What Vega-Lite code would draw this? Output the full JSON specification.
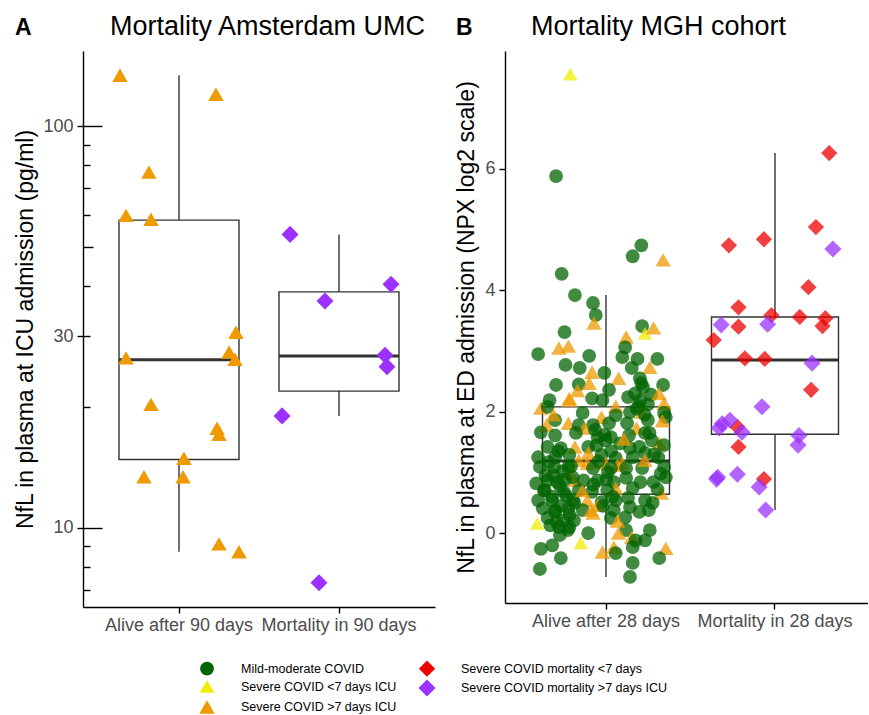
{
  "$schema": "https://vega.github.io/schema/vega-lite/v6.json",
  "background": "white",
  "padding": {"left": 14, "top": 13, "right": 0, "bottom": 0},
  "config": {
    "font": "Liberation Sans",
    "view": {"stroke": null},
    "axis": {"domainColor": "black", "domainWidth": 1.4, "tickColor": "black", "tickWidth": 1.4, "tickSize": 6, "labelColor": "#4d4d4d", "labelFontSize": 18, "labelFont": "Liberation Sans", "titleFont": "Liberation Sans", "titleFontSize": 23, "titleFontWeight": "normal", "titleColor": "black", "grid": false},
    "title": {"font": "Liberation Sans", "fontSize": 27, "fontWeight": "normal", "color": "black"},
    "legend": {"labelFont": "Liberation Sans", "labelFontSize": 12.5, "labelColor": "black", "labelLimit": 400},
    "concat": {"spacing": 20}
  },
  "datasets": {
    "boxA": [
      {"group": "Alive after 90 days", "lower": 8.72, "q1": 14.8, "median": 26.2, "q3": 58.4, "upper": 134},
      {"group": "Mortality in 90 days", "lower": 19.0, "q1": 21.9, "median": 26.8, "q3": 38.7, "upper": 53.8}
    ],
    "boxB": [
      {"group": "Alive after 28 days", "lower": -0.72, "q1": 0.64, "median": 1.19, "q3": 2.08, "upper": 3.92},
      {"group": "Mortality in 28 days", "lower": 0.38, "q1": 1.63, "median": 2.85, "q3": 3.56, "upper": 6.26}
    ],
    "ptsA": [
      {"group": "Alive after 90 days", "cat": "Severe COVID >7 days ICU", "nfl": 134, "jitter": -0.369},
      {"group": "Alive after 90 days", "cat": "Severe COVID >7 days ICU", "nfl": 120.2, "jitter": 0.231},
      {"group": "Alive after 90 days", "cat": "Severe COVID >7 days ICU", "nfl": 76.9, "jitter": -0.188},
      {"group": "Alive after 90 days", "cat": "Severe COVID >7 days ICU", "nfl": 60.0, "jitter": -0.331},
      {"group": "Alive after 90 days", "cat": "Severe COVID >7 days ICU", "nfl": 58.7, "jitter": -0.175},
      {"group": "Alive after 90 days", "cat": "Severe COVID >7 days ICU", "nfl": 30.7, "jitter": 0.356},
      {"group": "Alive after 90 days", "cat": "Severe COVID >7 days ICU", "nfl": 26.5, "jitter": -0.331},
      {"group": "Alive after 90 days", "cat": "Severe COVID >7 days ICU", "nfl": 27.4, "jitter": 0.313},
      {"group": "Alive after 90 days", "cat": "Severe COVID >7 days ICU", "nfl": 26.3, "jitter": 0.35},
      {"group": "Alive after 90 days", "cat": "Severe COVID >7 days ICU", "nfl": 20.3, "jitter": -0.175},
      {"group": "Alive after 90 days", "cat": "Severe COVID >7 days ICU", "nfl": 17.7, "jitter": 0.238},
      {"group": "Alive after 90 days", "cat": "Severe COVID >7 days ICU", "nfl": 17.1, "jitter": 0.25},
      {"group": "Alive after 90 days", "cat": "Severe COVID >7 days ICU", "nfl": 14.9, "jitter": 0.031},
      {"group": "Alive after 90 days", "cat": "Severe COVID >7 days ICU", "nfl": 13.4, "jitter": -0.219},
      {"group": "Alive after 90 days", "cat": "Severe COVID >7 days ICU", "nfl": 13.4, "jitter": 0.025},
      {"group": "Alive after 90 days", "cat": "Severe COVID >7 days ICU", "nfl": 9.12, "jitter": 0.25},
      {"group": "Alive after 90 days", "cat": "Severe COVID >7 days ICU", "nfl": 8.72, "jitter": 0.375},
      {"group": "Mortality in 90 days", "cat": "Severe COVID mortality >7 days ICU", "nfl": 53.8, "jitter": -0.306},
      {"group": "Mortality in 90 days", "cat": "Severe COVID mortality >7 days ICU", "nfl": 40.4, "jitter": 0.325},
      {"group": "Mortality in 90 days", "cat": "Severe COVID mortality >7 days ICU", "nfl": 36.7, "jitter": -0.0875},
      {"group": "Mortality in 90 days", "cat": "Severe COVID mortality >7 days ICU", "nfl": 26.9, "jitter": 0.288},
      {"group": "Mortality in 90 days", "cat": "Severe COVID mortality >7 days ICU", "nfl": 25.2, "jitter": 0.3},
      {"group": "Mortality in 90 days", "cat": "Severe COVID mortality >7 days ICU", "nfl": 19.0, "jitter": -0.356},
      {"group": "Mortality in 90 days", "cat": "Severe COVID mortality >7 days ICU", "nfl": 7.30, "jitter": -0.125}
    ],
    "ptsB": [
      {"group": "Alive after 28 days", "cat": "Severe COVID <7 days ICU", "npx": 7.56, "jitter": -0.195},
      {"group": "Alive after 28 days", "cat": "Mild-moderate COVID", "npx": 5.88, "jitter": -0.284},
      {"group": "Alive after 28 days", "cat": "Mild-moderate COVID", "npx": 4.74, "jitter": 0.249},
      {"group": "Alive after 28 days", "cat": "Mild-moderate COVID", "npx": 4.56, "jitter": 0.195},
      {"group": "Alive after 28 days", "cat": "Mild-moderate COVID", "npx": 4.27, "jitter": -0.249},
      {"group": "Alive after 28 days", "cat": "Mild-moderate COVID", "npx": 3.92, "jitter": -0.166},
      {"group": "Alive after 28 days", "cat": "Mild-moderate COVID", "npx": 3.79, "jitter": -0.053},
      {"group": "Alive after 28 days", "cat": "Mild-moderate COVID", "npx": 3.59, "jitter": -0.036},
      {"group": "Alive after 28 days", "cat": "Severe COVID >7 days ICU", "npx": 4.50, "jitter": 0.385},
      {"group": "Alive after 28 days", "cat": "Severe COVID >7 days ICU", "npx": 3.46, "jitter": -0.047},
      {"group": "Alive after 28 days", "cat": "Mild-moderate COVID", "npx": 3.41, "jitter": 0.254},
      {"group": "Alive after 28 days", "cat": "Severe COVID <7 days ICU", "npx": 3.29, "jitter": 0.272},
      {"group": "Alive after 28 days", "cat": "Severe COVID >7 days ICU", "npx": 3.38, "jitter": 0.325},
      {"group": "Alive after 28 days", "cat": "Mild-moderate COVID", "npx": 3.31, "jitter": -0.231},
      {"group": "Alive after 28 days", "cat": "Severe COVID >7 days ICU", "npx": 3.23, "jitter": 0.154},
      {"group": "Alive after 28 days", "cat": "Mild-moderate COVID", "npx": 3.06, "jitter": 0.148},
      {"group": "Alive after 28 days", "cat": "Severe COVID >7 days ICU", "npx": 3.05, "jitter": -0.266},
      {"group": "Alive after 28 days", "cat": "Severe COVID >7 days ICU", "npx": 3.08, "jitter": -0.207},
      {"group": "Alive after 28 days", "cat": "Mild-moderate COVID", "npx": 2.95, "jitter": -0.396},
      {"group": "Alive after 28 days", "cat": "Mild-moderate COVID", "npx": 2.92, "jitter": -0.077},
      {"group": "Alive after 28 days", "cat": "Mild-moderate COVID", "npx": 2.90, "jitter": 0.130},
      {"group": "Alive after 28 days", "cat": "Mild-moderate COVID", "npx": 2.87, "jitter": 0.225},
      {"group": "Alive after 28 days", "cat": "Mild-moderate COVID", "npx": 2.87, "jitter": 0.349},
      {"group": "Alive after 28 days", "cat": "Mild-moderate COVID", "npx": 2.77, "jitter": -0.225},
      {"group": "Alive after 28 days", "cat": "Mild-moderate COVID", "npx": 2.72, "jitter": -0.136},
      {"group": "Alive after 28 days", "cat": "Mild-moderate COVID", "npx": 2.72, "jitter": 0.189},
      {"group": "Alive after 28 days", "cat": "Severe COVID >7 days ICU", "npx": 2.65, "jitter": -0.059},
      {"group": "Alive after 28 days", "cat": "Severe COVID >7 days ICU", "npx": 2.73, "jitter": 0.302},
      {"group": "Alive after 28 days", "cat": "Mild-moderate COVID", "npx": 2.44, "jitter": -0.284},
      {"group": "Alive after 28 days", "cat": "Mild-moderate COVID", "npx": 2.45, "jitter": -0.142},
      {"group": "Alive after 28 days", "cat": "Severe COVID >7 days ICU", "npx": 2.47, "jitter": -0.077},
      {"group": "Alive after 28 days", "cat": "Mild-moderate COVID", "npx": 2.24, "jitter": 0.166},
      {"group": "Alive after 28 days", "cat": "Mild-moderate COVID", "npx": 2.44, "jitter": 0.385},
      {"group": "Alive after 28 days", "cat": "Mild-moderate COVID", "npx": 2.47, "jitter": 0.249},
      {"group": "Alive after 28 days", "cat": "Severe COVID >7 days ICU", "npx": 2.55, "jitter": 0.107},
      {"group": "Alive after 28 days", "cat": "Severe COVID >7 days ICU", "npx": 2.22, "jitter": -0.201},
      {"group": "Alive after 28 days", "cat": "Mild-moderate COVID", "npx": 2.64, "jitter": 0.018},
      {"group": "Alive after 28 days", "cat": "Mild-moderate COVID", "npx": 2.36, "jitter": 0.047},
      {"group": "Alive after 28 days", "cat": "Mild-moderate COVID", "npx": 2.19, "jitter": -0.325},
      {"group": "Alive after 28 days", "cat": "Severe COVID >7 days ICU", "npx": 2.19, "jitter": -0.201},
      {"group": "Alive after 28 days", "cat": "Mild-moderate COVID", "npx": 2.22, "jitter": -0.059},
      {"group": "Alive after 28 days", "cat": "Mild-moderate COVID", "npx": 2.19, "jitter": 0.006},
      {"group": "Alive after 28 days", "cat": "Mild-moderate COVID", "npx": 2.19, "jitter": 0.243},
      {"group": "Alive after 28 days", "cat": "Severe COVID >7 days ICU", "npx": 2.06, "jitter": -0.379},
      {"group": "Alive after 28 days", "cat": "Mild-moderate COVID", "npx": 2.08, "jitter": -0.337},
      {"group": "Alive after 28 days", "cat": "Severe COVID >7 days ICU", "npx": 2.09, "jitter": 0.089},
      {"group": "Alive after 28 days", "cat": "Mild-moderate COVID", "npx": 2.09, "jitter": 0.231},
      {"group": "Alive after 28 days", "cat": "Severe COVID >7 days ICU", "npx": 2.14, "jitter": 0.391},
      {"group": "Alive after 28 days", "cat": "Mild-moderate COVID", "npx": 1.98, "jitter": 0.391},
      {"group": "Alive after 28 days", "cat": "Mild-moderate COVID", "npx": 1.94, "jitter": 0.089},
      {"group": "Alive after 28 days", "cat": "Mild-moderate COVID", "npx": 1.98, "jitter": -0.118},
      {"group": "Alive after 28 days", "cat": "Mild-moderate COVID", "npx": 1.99, "jitter": 0.178},
      {"group": "Alive after 28 days", "cat": "Severe COVID >7 days ICU", "npx": 1.99, "jitter": 0.254},
      {"group": "Alive after 28 days", "cat": "Severe COVID >7 days ICU", "npx": 1.91, "jitter": 0.0},
      {"group": "Alive after 28 days", "cat": "Mild-moderate COVID", "npx": 1.91, "jitter": 0.402},
      {"group": "Alive after 28 days", "cat": "Mild-moderate COVID", "npx": 1.86, "jitter": -0.290},
      {"group": "Alive after 28 days", "cat": "Severe COVID >7 days ICU", "npx": 1.81, "jitter": -0.207},
      {"group": "Alive after 28 days", "cat": "Severe COVID >7 days ICU", "npx": 1.78, "jitter": -0.343},
      {"group": "Alive after 28 days", "cat": "Mild-moderate COVID", "npx": 1.78, "jitter": -0.142},
      {"group": "Alive after 28 days", "cat": "Mild-moderate COVID", "npx": 1.78, "jitter": -0.053},
      {"group": "Alive after 28 days", "cat": "Mild-moderate COVID", "npx": 1.81, "jitter": 0.047},
      {"group": "Alive after 28 days", "cat": "Mild-moderate COVID", "npx": 1.81, "jitter": 0.160},
      {"group": "Alive after 28 days", "cat": "Severe COVID >7 days ICU", "npx": 1.73, "jitter": 0.219},
      {"group": "Alive after 28 days", "cat": "Mild-moderate COVID", "npx": 1.86, "jitter": 0.290},
      {"group": "Alive after 28 days", "cat": "Severe COVID >7 days ICU", "npx": 1.73, "jitter": -0.107},
      {"group": "Alive after 28 days", "cat": "Mild-moderate COVID", "npx": 1.66, "jitter": -0.379},
      {"group": "Alive after 28 days", "cat": "Mild-moderate COVID", "npx": 1.61, "jitter": -0.290},
      {"group": "Alive after 28 days", "cat": "Mild-moderate COVID", "npx": 1.65, "jitter": -0.160},
      {"group": "Alive after 28 days", "cat": "Mild-moderate COVID", "npx": 1.58, "jitter": -0.024},
      {"group": "Alive after 28 days", "cat": "Mild-moderate COVID", "npx": 1.58, "jitter": 0.059},
      {"group": "Alive after 28 days", "cat": "Mild-moderate COVID", "npx": 1.61, "jitter": 0.172},
      {"group": "Alive after 28 days", "cat": "Mild-moderate COVID", "npx": 1.65, "jitter": 0.272},
      {"group": "Alive after 28 days", "cat": "Severe COVID >7 days ICU", "npx": 1.48, "jitter": 0.361},
      {"group": "Alive after 28 days", "cat": "Mild-moderate COVID", "npx": 1.53, "jitter": 0.314},
      {"group": "Alive after 28 days", "cat": "Mild-moderate COVID", "npx": 1.42, "jitter": -0.337},
      {"group": "Alive after 28 days", "cat": "Mild-moderate COVID", "npx": 1.40, "jitter": -0.254},
      {"group": "Alive after 28 days", "cat": "Severe COVID >7 days ICU", "npx": 1.42, "jitter": -0.166},
      {"group": "Alive after 28 days", "cat": "Mild-moderate COVID", "npx": 1.42, "jitter": -0.083},
      {"group": "Alive after 28 days", "cat": "Mild-moderate COVID", "npx": 1.53, "jitter": 0.024},
      {"group": "Alive after 28 days", "cat": "Mild-moderate COVID", "npx": 1.48, "jitter": 0.118},
      {"group": "Alive after 28 days", "cat": "Mild-moderate COVID", "npx": 1.40, "jitter": 0.178},
      {"group": "Alive after 28 days", "cat": "Mild-moderate COVID", "npx": 1.42, "jitter": 0.237},
      {"group": "Alive after 28 days", "cat": "Severe COVID >7 days ICU", "npx": 1.32, "jitter": -0.083},
      {"group": "Alive after 28 days", "cat": "Mild-moderate COVID", "npx": 1.32, "jitter": 0.272},
      {"group": "Alive after 28 days", "cat": "Mild-moderate COVID", "npx": 1.25, "jitter": -0.396},
      {"group": "Alive after 28 days", "cat": "Mild-moderate COVID", "npx": 1.25, "jitter": -0.290},
      {"group": "Alive after 28 days", "cat": "Mild-moderate COVID", "npx": 1.29, "jitter": -0.201},
      {"group": "Alive after 28 days", "cat": "Mild-moderate COVID", "npx": 1.29, "jitter": 0.0},
      {"group": "Alive after 28 days", "cat": "Mild-moderate COVID", "npx": 1.24, "jitter": 0.089},
      {"group": "Alive after 28 days", "cat": "Mild-moderate COVID", "npx": 1.25, "jitter": 0.195},
      {"group": "Alive after 28 days", "cat": "Mild-moderate COVID", "npx": 1.25, "jitter": 0.355},
      {"group": "Alive after 28 days", "cat": "Severe COVID >7 days ICU", "npx": 1.20, "jitter": -0.142},
      {"group": "Alive after 28 days", "cat": "Severe COVID >7 days ICU", "npx": 1.15, "jitter": -0.089},
      {"group": "Alive after 28 days", "cat": "Severe COVID >7 days ICU", "npx": 1.15, "jitter": 0.024},
      {"group": "Alive after 28 days", "cat": "Severe COVID >7 days ICU", "npx": 1.12, "jitter": 0.101},
      {"group": "Alive after 28 days", "cat": "Severe COVID >7 days ICU", "npx": 1.15, "jitter": 0.130},
      {"group": "Alive after 28 days", "cat": "Mild-moderate COVID", "npx": 1.09, "jitter": -0.385},
      {"group": "Alive after 28 days", "cat": "Mild-moderate COVID", "npx": 1.09, "jitter": -0.296},
      {"group": "Alive after 28 days", "cat": "Mild-moderate COVID", "npx": 1.09, "jitter": -0.207},
      {"group": "Alive after 28 days", "cat": "Mild-moderate COVID", "npx": 1.07, "jitter": -0.053},
      {"group": "Alive after 28 days", "cat": "Mild-moderate COVID", "npx": 1.07, "jitter": 0.059},
      {"group": "Alive after 28 days", "cat": "Mild-moderate COVID", "npx": 1.07, "jitter": 0.154},
      {"group": "Alive after 28 days", "cat": "Mild-moderate COVID", "npx": 1.07, "jitter": 0.254},
      {"group": "Alive after 28 days", "cat": "Mild-moderate COVID", "npx": 1.09, "jitter": 0.391},
      {"group": "Alive after 28 days", "cat": "Mild-moderate COVID", "npx": 0.92, "jitter": 0.402},
      {"group": "Alive after 28 days", "cat": "Severe COVID >7 days ICU", "npx": 0.99, "jitter": -0.207},
      {"group": "Alive after 28 days", "cat": "Severe COVID >7 days ICU", "npx": 0.87, "jitter": -0.166},
      {"group": "Alive after 28 days", "cat": "Mild-moderate COVID", "npx": 0.87, "jitter": -0.337},
      {"group": "Alive after 28 days", "cat": "Mild-moderate COVID", "npx": 0.82, "jitter": -0.408},
      {"group": "Alive after 28 days", "cat": "Mild-moderate COVID", "npx": 0.84, "jitter": -0.278},
      {"group": "Alive after 28 days", "cat": "Mild-moderate COVID", "npx": 0.87, "jitter": -0.112},
      {"group": "Alive after 28 days", "cat": "Mild-moderate COVID", "npx": 0.87, "jitter": -0.024},
      {"group": "Alive after 28 days", "cat": "Mild-moderate COVID", "npx": 0.84, "jitter": 0.077},
      {"group": "Alive after 28 days", "cat": "Mild-moderate COVID", "npx": 0.91, "jitter": 0.154},
      {"group": "Alive after 28 days", "cat": "Mild-moderate COVID", "npx": 0.84, "jitter": 0.243},
      {"group": "Alive after 28 days", "cat": "Mild-moderate COVID", "npx": 0.84, "jitter": 0.325},
      {"group": "Alive after 28 days", "cat": "Severe COVID >7 days ICU", "npx": 0.74, "jitter": 0.089},
      {"group": "Alive after 28 days", "cat": "Mild-moderate COVID", "npx": 0.71, "jitter": -0.355},
      {"group": "Alive after 28 days", "cat": "Mild-moderate COVID", "npx": 0.68, "jitter": -0.237},
      {"group": "Alive after 28 days", "cat": "Mild-moderate COVID", "npx": 0.71, "jitter": -0.142},
      {"group": "Alive after 28 days", "cat": "Mild-moderate COVID", "npx": 0.68, "jitter": -0.059},
      {"group": "Alive after 28 days", "cat": "Mild-moderate COVID", "npx": 0.71, "jitter": 0.036},
      {"group": "Alive after 28 days", "cat": "Mild-moderate COVID", "npx": 0.74, "jitter": 0.195},
      {"group": "Alive after 28 days", "cat": "Severe COVID >7 days ICU", "npx": 0.66, "jitter": 0.373},
      {"group": "Alive after 28 days", "cat": "Mild-moderate COVID", "npx": 0.54, "jitter": -0.396},
      {"group": "Alive after 28 days", "cat": "Mild-moderate COVID", "npx": 0.54, "jitter": -0.308},
      {"group": "Alive after 28 days", "cat": "Severe COVID >7 days ICU", "npx": 0.54, "jitter": -0.089},
      {"group": "Alive after 28 days", "cat": "Mild-moderate COVID", "npx": 0.54, "jitter": -0.178},
      {"group": "Alive after 28 days", "cat": "Mild-moderate COVID", "npx": 0.51, "jitter": 0.0},
      {"group": "Alive after 28 days", "cat": "Mild-moderate COVID", "npx": 0.54, "jitter": 0.089},
      {"group": "Alive after 28 days", "cat": "Mild-moderate COVID", "npx": 0.58, "jitter": 0.166},
      {"group": "Alive after 28 days", "cat": "Mild-moderate COVID", "npx": 0.54, "jitter": 0.272},
      {"group": "Alive after 28 days", "cat": "Severe COVID >7 days ICU", "npx": 0.46, "jitter": -0.024},
      {"group": "Alive after 28 days", "cat": "Mild-moderate COVID", "npx": 0.41, "jitter": -0.367},
      {"group": "Alive after 28 days", "cat": "Mild-moderate COVID", "npx": 0.38, "jitter": -0.290},
      {"group": "Alive after 28 days", "cat": "Mild-moderate COVID", "npx": 0.41, "jitter": -0.207},
      {"group": "Alive after 28 days", "cat": "Mild-moderate COVID", "npx": 0.38, "jitter": -0.118},
      {"group": "Alive after 28 days", "cat": "Severe COVID >7 days ICU", "npx": 0.38, "jitter": -0.065},
      {"group": "Alive after 28 days", "cat": "Mild-moderate COVID", "npx": 0.38, "jitter": 0.077},
      {"group": "Alive after 28 days", "cat": "Mild-moderate COVID", "npx": 0.43, "jitter": 0.178},
      {"group": "Alive after 28 days", "cat": "Mild-moderate COVID", "npx": 0.35, "jitter": 0.237},
      {"group": "Alive after 28 days", "cat": "Mild-moderate COVID", "npx": 0.38, "jitter": 0.296},
      {"group": "Alive after 28 days", "cat": "Severe COVID >7 days ICU", "npx": 0.33, "jitter": -0.053},
      {"group": "Alive after 28 days", "cat": "Mild-moderate COVID", "npx": 0.25, "jitter": -0.337},
      {"group": "Alive after 28 days", "cat": "Mild-moderate COVID", "npx": 0.21, "jitter": -0.237},
      {"group": "Alive after 28 days", "cat": "Mild-moderate COVID", "npx": 0.21, "jitter": -0.172},
      {"group": "Alive after 28 days", "cat": "Mild-moderate COVID", "npx": 0.25, "jitter": 0.059},
      {"group": "Alive after 28 days", "cat": "Mild-moderate COVID", "npx": 0.26, "jitter": 0.148},
      {"group": "Alive after 28 days", "cat": "Severe COVID <7 days ICU", "npx": 0.16, "jitter": -0.402},
      {"group": "Alive after 28 days", "cat": "Mild-moderate COVID", "npx": 0.13, "jitter": -0.320},
      {"group": "Alive after 28 days", "cat": "Mild-moderate COVID", "npx": 0.10, "jitter": -0.266},
      {"group": "Alive after 28 days", "cat": "Mild-moderate COVID", "npx": 0.10, "jitter": -0.201},
      {"group": "Alive after 28 days", "cat": "Mild-moderate COVID", "npx": 0.0, "jitter": -0.083},
      {"group": "Alive after 28 days", "cat": "Mild-moderate COVID", "npx": 0.05, "jitter": 0.154},
      {"group": "Alive after 28 days", "cat": "Mild-moderate COVID", "npx": 0.05, "jitter": 0.302},
      {"group": "Alive after 28 days", "cat": "Severe COVID >7 days ICU", "npx": 0.0, "jitter": 0.107},
      {"group": "Alive after 28 days", "cat": "Severe COVID >7 days ICU", "npx": -0.07, "jitter": 0.189},
      {"group": "Alive after 28 days", "cat": "Mild-moderate COVID", "npx": -0.12, "jitter": 0.213},
      {"group": "Alive after 28 days", "cat": "Mild-moderate COVID", "npx": -0.03, "jitter": -0.260},
      {"group": "Alive after 28 days", "cat": "Mild-moderate COVID", "npx": -0.20, "jitter": -0.308},
      {"group": "Alive after 28 days", "cat": "Severe COVID <7 days ICU", "npx": -0.16, "jitter": -0.130},
      {"group": "Alive after 28 days", "cat": "Mild-moderate COVID", "npx": -0.12, "jitter": 0.272},
      {"group": "Alive after 28 days", "cat": "Mild-moderate COVID", "npx": -0.26, "jitter": -0.379},
      {"group": "Alive after 28 days", "cat": "Mild-moderate COVID", "npx": -0.41, "jitter": -0.254},
      {"group": "Alive after 28 days", "cat": "Severe COVID >7 days ICU", "npx": -0.31, "jitter": 0.006},
      {"group": "Alive after 28 days", "cat": "Severe COVID >7 days ICU", "npx": -0.23, "jitter": 0.077},
      {"group": "Alive after 28 days", "cat": "Mild-moderate COVID", "npx": -0.33, "jitter": 0.089},
      {"group": "Alive after 28 days", "cat": "Mild-moderate COVID", "npx": -0.23, "jitter": 0.195},
      {"group": "Alive after 28 days", "cat": "Severe COVID >7 days ICU", "npx": -0.25, "jitter": 0.402},
      {"group": "Alive after 28 days", "cat": "Mild-moderate COVID", "npx": -0.41, "jitter": 0.361},
      {"group": "Alive after 28 days", "cat": "Mild-moderate COVID", "npx": -0.49, "jitter": 0.195},
      {"group": "Alive after 28 days", "cat": "Mild-moderate COVID", "npx": -0.59, "jitter": -0.385},
      {"group": "Alive after 28 days", "cat": "Mild-moderate COVID", "npx": -0.72, "jitter": 0.178},
      {"group": "Alive after 28 days", "cat": "Mild-moderate COVID", "npx": 1.17, "jitter": -0.33},
      {"group": "Alive after 28 days", "cat": "Mild-moderate COVID", "npx": 0.95, "jitter": -0.30},
      {"group": "Alive after 28 days", "cat": "Mild-moderate COVID", "npx": 0.78, "jitter": -0.26},
      {"group": "Alive after 28 days", "cat": "Mild-moderate COVID", "npx": 0.62, "jitter": -0.22},
      {"group": "Alive after 28 days", "cat": "Mild-moderate COVID", "npx": 0.92, "jitter": -0.18},
      {"group": "Alive after 28 days", "cat": "Mild-moderate COVID", "npx": 0.60, "jitter": -0.31},
      {"group": "Alive after 28 days", "cat": "Mild-moderate COVID", "npx": 0.45, "jitter": -0.25},
      {"group": "Alive after 28 days", "cat": "Mild-moderate COVID", "npx": 0.30, "jitter": -0.20},
      {"group": "Alive after 28 days", "cat": "Mild-moderate COVID", "npx": 0.18, "jitter": -0.28},
      {"group": "Alive after 28 days", "cat": "Mild-moderate COVID", "npx": 1.02, "jitter": -0.24},
      {"group": "Alive after 28 days", "cat": "Mild-moderate COVID", "npx": 0.50, "jitter": -0.17},
      {"group": "Alive after 28 days", "cat": "Mild-moderate COVID", "npx": 0.95, "jitter": -0.35},
      {"group": "Alive after 28 days", "cat": "Mild-moderate COVID", "npx": 0.35, "jitter": -0.29},
      {"group": "Alive after 28 days", "cat": "Mild-moderate COVID", "npx": 0.05, "jitter": -0.21},
      {"group": "Alive after 28 days", "cat": "Mild-moderate COVID", "npx": 1.35, "jitter": -0.27},
      {"group": "Alive after 28 days", "cat": "Mild-moderate COVID", "npx": 1.10, "jitter": -0.19},
      {"group": "Alive after 28 days", "cat": "Mild-moderate COVID", "npx": 0.70, "jitter": -0.36},
      {"group": "Alive after 28 days", "cat": "Mild-moderate COVID", "npx": 0.88, "jitter": -0.23},
      {"group": "Alive after 28 days", "cat": "Mild-moderate COVID", "npx": 2.30, "jitter": 0.21},
      {"group": "Alive after 28 days", "cat": "Mild-moderate COVID", "npx": 2.40, "jitter": 0.26},
      {"group": "Alive after 28 days", "cat": "Mild-moderate COVID", "npx": 2.12, "jitter": 0.29},
      {"group": "Alive after 28 days", "cat": "Mild-moderate COVID", "npx": 2.55, "jitter": 0.24},
      {"group": "Alive after 28 days", "cat": "Mild-moderate COVID", "npx": 2.28, "jitter": 0.31},
      {"group": "Alive after 28 days", "cat": "Mild-moderate COVID", "npx": 2.05, "jitter": 0.22},
      {"group": "Alive after 28 days", "cat": "Mild-moderate COVID", "npx": 1.95, "jitter": 0.27},
      {"group": "Alive after 28 days", "cat": "Mild-moderate COVID", "npx": 1.70, "jitter": -0.04},
      {"group": "Alive after 28 days", "cat": "Mild-moderate COVID", "npx": 1.62, "jitter": 0.02},
      {"group": "Alive after 28 days", "cat": "Mild-moderate COVID", "npx": 1.35, "jitter": 0.06},
      {"group": "Alive after 28 days", "cat": "Mild-moderate COVID", "npx": 1.18, "jitter": -0.02},
      {"group": "Alive after 28 days", "cat": "Mild-moderate COVID", "npx": 1.00, "jitter": 0.04},
      {"group": "Alive after 28 days", "cat": "Mild-moderate COVID", "npx": 0.80, "jitter": -0.05},
      {"group": "Alive after 28 days", "cat": "Mild-moderate COVID", "npx": 0.60, "jitter": 0.07},
      {"group": "Alive after 28 days", "cat": "Mild-moderate COVID", "npx": 0.45, "jitter": 0.01},
      {"group": "Alive after 28 days", "cat": "Mild-moderate COVID", "npx": 0.88, "jitter": 0.03},
      {"group": "Alive after 28 days", "cat": "Mild-moderate COVID", "npx": 1.45, "jitter": -0.03},
      {"group": "Alive after 28 days", "cat": "Mild-moderate COVID", "npx": 1.30, "jitter": 0.33},
      {"group": "Alive after 28 days", "cat": "Mild-moderate COVID", "npx": 0.98, "jitter": 0.37},
      {"group": "Alive after 28 days", "cat": "Mild-moderate COVID", "npx": 1.65, "jitter": 0.30},
      {"group": "Alive after 28 days", "cat": "Mild-moderate COVID", "npx": 0.72, "jitter": 0.35},
      {"group": "Alive after 28 days", "cat": "Mild-moderate COVID", "npx": 1.45, "jitter": 0.39},
      {"group": "Alive after 28 days", "cat": "Mild-moderate COVID", "npx": 0.50, "jitter": 0.32},
      {"group": "Alive after 28 days", "cat": "Severe COVID >7 days ICU", "npx": 1.95, "jitter": -0.30},
      {"group": "Alive after 28 days", "cat": "Severe COVID >7 days ICU", "npx": 1.55, "jitter": 0.14},
      {"group": "Alive after 28 days", "cat": "Severe COVID >7 days ICU", "npx": 0.70, "jitter": -0.12},
      {"group": "Alive after 28 days", "cat": "Severe COVID >7 days ICU", "npx": 0.20, "jitter": 0.10},
      {"group": "Alive after 28 days", "cat": "Severe COVID >7 days ICU", "npx": 1.20, "jitter": 0.27},
      {"group": "Alive after 28 days", "cat": "Severe COVID >7 days ICU", "npx": 2.35, "jitter": -0.15},
      {"group": "Alive after 28 days", "cat": "Severe COVID >7 days ICU", "npx": 2.30, "jitter": 0.36},
      {"group": "Alive after 28 days", "cat": "Severe COVID >7 days ICU", "npx": 1.85, "jitter": 0.38},
      {"group": "Mortality in 28 days", "cat": "Severe COVID mortality <7 days", "npx": 6.26, "jitter": 0.367},
      {"group": "Mortality in 28 days", "cat": "Severe COVID mortality <7 days", "npx": 5.04, "jitter": 0.284},
      {"group": "Mortality in 28 days", "cat": "Severe COVID mortality <7 days", "npx": 4.84, "jitter": -0.041},
      {"group": "Mortality in 28 days", "cat": "Severe COVID mortality <7 days", "npx": 4.74, "jitter": -0.26},
      {"group": "Mortality in 28 days", "cat": "Severe COVID mortality <7 days", "npx": 4.05, "jitter": 0.237},
      {"group": "Mortality in 28 days", "cat": "Severe COVID mortality <7 days", "npx": 3.72, "jitter": -0.2},
      {"group": "Mortality in 28 days", "cat": "Severe COVID mortality <7 days", "npx": 3.59, "jitter": 0.006},
      {"group": "Mortality in 28 days", "cat": "Severe COVID mortality <7 days", "npx": 3.56, "jitter": 0.183},
      {"group": "Mortality in 28 days", "cat": "Severe COVID mortality <7 days", "npx": 3.54, "jitter": 0.343},
      {"group": "Mortality in 28 days", "cat": "Severe COVID mortality <7 days", "npx": 3.40, "jitter": -0.2},
      {"group": "Mortality in 28 days", "cat": "Severe COVID mortality <7 days", "npx": 3.41, "jitter": 0.325},
      {"group": "Mortality in 28 days", "cat": "Severe COVID mortality <7 days", "npx": 3.18, "jitter": -0.355},
      {"group": "Mortality in 28 days", "cat": "Severe COVID mortality <7 days", "npx": 2.88, "jitter": -0.16},
      {"group": "Mortality in 28 days", "cat": "Severe COVID mortality <7 days", "npx": 2.87, "jitter": -0.036},
      {"group": "Mortality in 28 days", "cat": "Severe COVID mortality <7 days", "npx": 2.36, "jitter": 0.254},
      {"group": "Mortality in 28 days", "cat": "Severe COVID mortality <7 days", "npx": 1.75, "jitter": -0.207},
      {"group": "Mortality in 28 days", "cat": "Severe COVID mortality <7 days", "npx": 1.42, "jitter": -0.2},
      {"group": "Mortality in 28 days", "cat": "Severe COVID mortality <7 days", "npx": 0.89, "jitter": -0.041},
      {"group": "Mortality in 28 days", "cat": "Severe COVID mortality >7 days ICU", "npx": 4.68, "jitter": 0.39},
      {"group": "Mortality in 28 days", "cat": "Severe COVID mortality >7 days ICU", "npx": 3.43, "jitter": -0.308},
      {"group": "Mortality in 28 days", "cat": "Severe COVID mortality >7 days ICU", "npx": 3.44, "jitter": -0.018},
      {"group": "Mortality in 28 days", "cat": "Severe COVID mortality >7 days ICU", "npx": 2.80, "jitter": 0.26},
      {"group": "Mortality in 28 days", "cat": "Severe COVID mortality >7 days ICU", "npx": 2.08, "jitter": -0.053},
      {"group": "Mortality in 28 days", "cat": "Severe COVID mortality >7 days ICU", "npx": 1.73, "jitter": -0.32},
      {"group": "Mortality in 28 days", "cat": "Severe COVID mortality >7 days ICU", "npx": 1.80, "jitter": -0.302},
      {"group": "Mortality in 28 days", "cat": "Severe COVID mortality >7 days ICU", "npx": 1.86, "jitter": -0.254},
      {"group": "Mortality in 28 days", "cat": "Severe COVID mortality >7 days ICU", "npx": 1.66, "jitter": -0.178},
      {"group": "Mortality in 28 days", "cat": "Severe COVID mortality >7 days ICU", "npx": 1.61, "jitter": 0.178},
      {"group": "Mortality in 28 days", "cat": "Severe COVID mortality >7 days ICU", "npx": 1.45, "jitter": 0.172},
      {"group": "Mortality in 28 days", "cat": "Severe COVID mortality >7 days ICU", "npx": 0.89, "jitter": -0.337},
      {"group": "Mortality in 28 days", "cat": "Severe COVID mortality >7 days ICU", "npx": 0.92, "jitter": -0.33},
      {"group": "Mortality in 28 days", "cat": "Severe COVID mortality >7 days ICU", "npx": 0.97, "jitter": -0.207},
      {"group": "Mortality in 28 days", "cat": "Severe COVID mortality >7 days ICU", "npx": 0.76, "jitter": -0.071},
      {"group": "Mortality in 28 days", "cat": "Severe COVID mortality >7 days ICU", "npx": 0.38, "jitter": -0.03}
    ]
  },
  "hconcat": [
    {
      "title": {"text": "A", "anchor": "start", "frame": "bounds", "fontWeight": "bold", "fontSize": 23, "offset": -27},
      "vconcat": [
        {
          "width": 352,
          "height": 556,
          "title": {"text": "Mortality Amsterdam UMC", "anchor": "start", "frame": "group", "dx": 27, "offset": 10},
          "layer": [
            {
              "data": {"name": "boxA"},
              "mark": {"type": "rule", "color": "#333333", "strokeWidth": 1.4},
              "encoding": {
                "x": {"field": "group", "type": "nominal", "sort": null, "scale": {"paddingInner": 0, "paddingOuter": 0.1}, "axis": {"title": null, "labelAngle": 0, "labelPadding": 3}},
                "y": {"field": "lower", "type": "quantitative", "scale": {"type": "log", "domain": [6.35, 154], "nice": false},
                  "axis": {"orient": "left", "values": [7, 8, 9, 10, 20, 30, 40, 50, 60, 70, 80, 90, 100], "labels": false, "domain": false, "title": null,
                    "tickSize": {"condition": [{"test": "datum.value == 10 || datum.value == 100", "value": -19}, {"test": "datum.value == 50", "value": -10}], "value": -7}}},
                "y2": {"field": "upper"}
              }
            },
            {
              "layer": [
                {
                  "data": {"name": "boxA"},
                  "mark": {"type": "bar", "fill": "white", "stroke": "#333333", "strokeWidth": 1.4, "size": 120},
                  "encoding": {
                    "x": {"field": "group", "type": "nominal", "sort": null, "scale": {"paddingInner": 0, "paddingOuter": 0.1}, "axis": {"title": null, "labelAngle": 0, "labelPadding": 3}},
                    "y": {"field": "q1", "type": "quantitative", "scale": {"type": "log", "domain": [6.35, 154], "nice": false}, "axis": {"orient": "left", "values": [10, 30, 100], "title": "NfL in plasma at ICU admission (pg/ml)", "titlePadding": 5, "labelPadding": 4}},
                    "y2": {"field": "q3"}
                  }
                },
                {
                  "data": {"name": "boxA"},
                  "mark": {"type": "tick", "color": "#333333", "thickness": 3, "size": 120, "opacity": 1},
                  "encoding": {
                    "x": {"field": "group", "type": "nominal", "sort": null},
                    "y": {"field": "median", "type": "quantitative"}
                  }
                },
                {
                  "data": {"name": "ptsA"},
                  "mark": {"type": "point", "filled": true, "opacity": 1, "strokeWidth": 0},
                  "encoding": {
                    "x": {"field": "group", "type": "nominal", "sort": null},
                    "xOffset": {"field": "jitter", "type": "quantitative", "scale": {"domain": [-0.5, 0.5]}},
                    "y": {"field": "nfl", "type": "quantitative"},
                    "color": {"field": "cat", "type": "nominal"},
                    "shape": {"field": "cat", "type": "nominal"},
                    "size": {"field": "cat", "type": "nominal", "legend": null}
                  }
                }
              ]
            }
          ],
          "resolve": {"scale": {"y": "independent"}}
        }
      ]
    },
    {
      "title": {"text": "B", "anchor": "start", "frame": "bounds", "fontWeight": "bold", "fontSize": 23, "offset": -27},
      "vconcat": [
        {
          "width": 363,
          "height": 552,
          "title": {"text": "Mortality MGH cohort", "anchor": "start", "frame": "group", "dx": 26, "offset": 10},
          "layer": [
            {
              "data": {"name": "boxB"},
              "mark": {"type": "rule", "color": "#333333", "strokeWidth": 1.4},
              "encoding": {
                "x": {"field": "group", "type": "nominal", "sort": null, "scale": {"paddingInner": 0, "paddingOuter": 0.074, "align": 0.66}, "axis": {"title": null, "labelAngle": 0, "labelPadding": 3}},
                "y": {"field": "lower", "type": "quantitative", "scale": {"domain": [-1.15, 7.94], "nice": false, "zero": false}, "axis": {"values": [0, 2, 4, 6], "format": "d", "title": "NfL in plasma at ED admission (NPX log2 scale)", "titlePadding": 6, "labelPadding": 4}},
                "y2": {"field": "upper"}
              }
            },
            {
              "data": {"name": "boxB"},
              "mark": {"type": "bar", "fill": "white", "stroke": "#333333", "strokeWidth": 1.4, "size": 127},
              "encoding": {
                "x": {"field": "group", "type": "nominal", "sort": null},
                "y": {"field": "q1", "type": "quantitative"},
                "y2": {"field": "q3"}
              }
            },
            {
              "data": {"name": "boxB"},
              "mark": {"type": "tick", "color": "#333333", "thickness": 3, "size": 127, "opacity": 1},
              "encoding": {
                "x": {"field": "group", "type": "nominal", "sort": null},
                "y": {"field": "median", "type": "quantitative"}
              }
            },
            {
              "data": {"name": "ptsB"},
              "mark": {"type": "point", "filled": true, "opacity": 0.75, "strokeWidth": 0},
              "encoding": {
                "x": {"field": "group", "type": "nominal", "sort": null},
                "xOffset": {"field": "jitter", "type": "quantitative", "scale": {"domain": [-0.5, 0.5]}},
                "y": {"field": "npx", "type": "quantitative"},
                "color": {"field": "cat", "type": "nominal",
                  "scale": {"domain": ["Mild-moderate COVID", "Severe COVID <7 days ICU", "Severe COVID >7 days ICU", "Severe COVID mortality <7 days", "Severe COVID mortality >7 days ICU"],
                            "range": ["#006400", "#EEEE00", "#EE9A00", "#EE0000", "#9B30FF"]},
                  "legend": {"title": null, "orient": "none", "direction": "vertical", "legendX": 115, "legendY": 609, "columns": 2, "symbolSize": 170, "labelOffset": 25, "rowPadding": 2, "columnPadding": 21, "symbolOpacity": 0.75, "symbolStrokeWidth": 0}},
                "shape": {"field": "cat", "type": "nominal",
                  "scale": {"domain": ["Mild-moderate COVID", "Severe COVID <7 days ICU", "Severe COVID >7 days ICU", "Severe COVID mortality <7 days", "Severe COVID mortality >7 days ICU"],
                            "range": ["circle", "triangle-up", "triangle-up", "diamond", "diamond"]}},
                "size": {"field": "cat", "type": "nominal", "legend": null,
                  "scale": {"domain": ["Mild-moderate COVID", "Severe COVID <7 days ICU", "Severe COVID >7 days ICU", "Severe COVID mortality <7 days", "Severe COVID mortality >7 days ICU"],
                            "range": [190, 290, 290, 170, 170]}}
              }
            }
          ]
        }
      ]
    }
  ]
}
